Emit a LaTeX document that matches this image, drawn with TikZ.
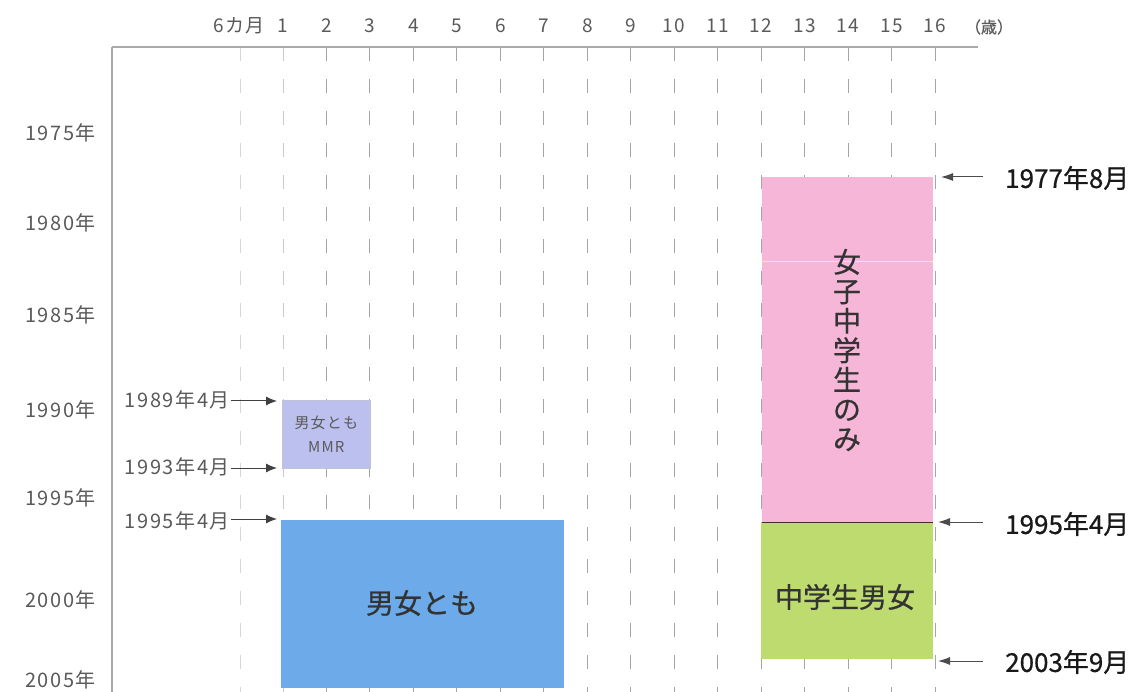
\documentclass[tikz,border=0pt]{standalone}
\usepackage{fontspec}
\newfontfamily\jpf{Noto Sans CJK JP}
\newfontfamily\jpb[FakeBold=0.6]{Noto Sans CJK JP}
\newfontfamily\jpl[LetterSpace=8]{Noto Sans CJK JP}
\usetikzlibrary{arrows.meta}
\definecolor{pinkc}{RGB}{246,182,216}
\definecolor{bluec}{RGB}{108,170,234}
\definecolor{greenc}{RGB}{190,219,112}
\definecolor{lavc}{RGB}{187,192,238}
\definecolor{axisc}{RGB}{170,170,170}
\definecolor{gridc}{RGB}{165,165,165}
\definecolor{labc}{RGB}{90,90,90}
\definecolor{sepc}{RGB}{70,45,45}
\definecolor{streakc}{RGB}{250,226,205}
\tikzset{
  agelab/.style={font=\jpl\fontsize{19}{22}\selectfont, text=labc, inner sep=0pt},
  yearlab/.style={font=\jpl\fontsize{20}{23}\selectfont, text=labc, inner sep=0pt, anchor=east},
  leftlab/.style={font=\jpl\fontsize{20}{23}\selectfont, text=labc, inner sep=0pt, anchor=east},
  rightlab/.style={font=\jpb\fontsize{26}{30}\selectfont, text=black!90, inner sep=0pt, anchor=west},
  boxtext/.style={font=\jpb\fontsize{28}{29.5}\selectfont, text=black!80, inner sep=0pt, align=center},
  bar/.style={inner sep=0pt, anchor=north west},
  gridline/.style={gridc, line width=1pt, dash pattern=on 14pt off 18pt},
  larrow/.style={draw=black!75, line width=1pt, -{Latex[length=11pt,width=9pt]}},
  rarrow/.style={draw=black!70, line width=1pt, -{Latex[length=12pt,width=8pt]}}
}
\begin{document}
\begin{tikzpicture}[x=1pt,y=-1pt]
\clip (0,0) rectangle (1138,692);
\fill[white] (0,0) rectangle (1138,692);

% grid columns
\draw[gridline, gridc!45] (240,47) -- (240,692);
\draw[gridline, gridc!60] (283,47) -- (283,692);
\foreach \i in {2,...,16}{
  \draw[gridline] ({283+(\i-1)*43.47},47) -- ({283+(\i-1)*43.47},692);
}

% axes
\draw[axisc, line width=1.6pt] (112,47) -- (978,47);
\draw[axisc, line width=1.6pt] (112,47) -- (112,692);

% age labels
\node[agelab] (a0) at (239,26) {6カ月};
\foreach \i in {1,...,16}{
  \node[agelab] (a\i) at ({283+(\i-1)*43.47},26) {\i};
}
\node[agelab, font=\jpb\fontsize{16}{20}\selectfont] (unit) at (989,27) {（歳）};

% year labels
\node[yearlab] (y1975) at (96,133) {1975年};
\node[yearlab] (y1980) at (96,223) {1980年};
\node[yearlab] (y1985) at (96,315) {1985年};
\node[yearlab] (y1990) at (96,410) {1990年};
\node[yearlab] (y1995) at (96,498) {1995年};
\node[yearlab] (y2000) at (96,600) {2000年};
\node[yearlab] (y2005) at (96,680) {2005年};

% bars
\node[bar, fill=lavc, draw=lavc!80!black!60, line width=0.6pt, minimum width=88pt, minimum height=68pt] (mmr) at (282,400) {};
\node[font=\jpl\fontsize{15}{24}\selectfont, text=labc, align=center, inner sep=0pt] (mmrt) at (mmr.center) {男女とも\\MMR};

\node[bar, fill=bluec, minimum width=283pt, minimum height=168pt] (blue) at (281,520) {};
\node[boxtext] (bluet) at (422,603) {男女とも};

\node[bar, fill=pinkc, minimum width=171pt, minimum height=345pt] (pink) at (762,177) {};
\draw[streakc, line width=1pt] (762,262) -- (933,262);
\node[boxtext] (pinkt) at (847,350) {女\\子\\中\\学\\生\\の\\み};

\node[bar, fill=greenc, minimum width=172pt, minimum height=137pt] (green) at (761,522) {};
\node[boxtext] (greent) at (845,597) {中学生男女};
\draw[sepc, line width=1.8pt] (pink.south west) -- (pink.south east);

% left arrows
\node[leftlab] (l1989) at (230,400) {1989年4月};
\node[leftlab] (l1993) at (230,467) {1993年4月};
\node[leftlab] (l1995) at (230,521) {1995年4月};
\coordinate (t1989) at (277,401);
\coordinate (t1993) at (277,468);
\coordinate (t1995) at (277,519);
\draw[larrow] ([xshift=1pt,yshift=-1pt]l1989.east) -- (t1989);
\draw[larrow] ([xshift=1pt,yshift=-1pt]l1993.east) -- (t1993);
\draw[larrow] ([xshift=1pt,yshift=2pt]l1995.east) -- (t1995);

% right arrows
\node[rightlab] (r1977) at (1005,178) {1977年8月};
\node[rightlab] (r1995) at (1005,524) {1995年4月};
\node[rightlab] (r2003) at (1005,662) {2003年9月};
\coordinate (s1977) at (983,177);
\coordinate (e1977) at (941,177);
\coordinate (s1995) at (983,522);
\coordinate (e1995) at (938,522);
\coordinate (s2003) at (983,661);
\coordinate (e2003) at (938,661);
\draw[rarrow] (s1977) -- (e1977);
\draw[rarrow] (s1995) -- (e1995);
\draw[rarrow] (s2003) -- (e2003);
\end{tikzpicture}
\end{document}
